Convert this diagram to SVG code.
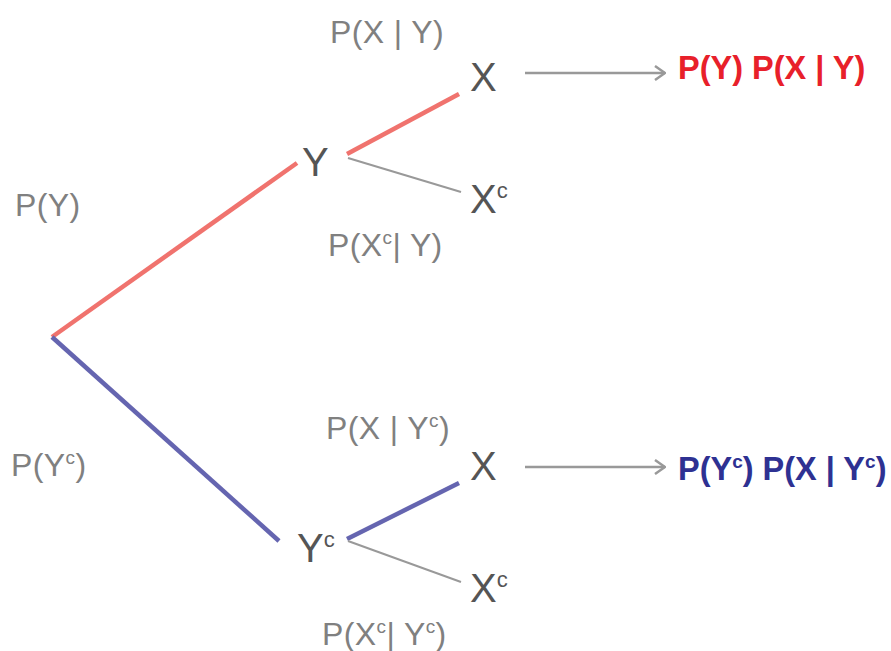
<svg xmlns="http://www.w3.org/2000/svg" width="891" height="651" viewBox="0 0 891 651">
<defs>
<style>
.lbl{font-family:"Liberation Sans",Arial,sans-serif;font-size:32px;letter-spacing:0.4px;fill:#808080}
.node{font-family:"Liberation Sans",Arial,sans-serif;font-size:40px;fill:#555555}
.res{font-family:"Liberation Sans",Arial,sans-serif;font-size:32.5px;font-weight:bold}
.red{stroke:#f0736e;stroke-width:4.5;fill:none}
.blue{stroke:#6565b0;stroke-width:4.5;fill:none}
.gray{stroke:#999999;stroke-width:2;fill:none}
.arr{stroke:#999999;stroke-width:2.5;fill:none}
</style>
<marker id="chev" viewBox="0 0 12 16" refX="11" refY="8" markerWidth="12" markerHeight="16" markerUnits="userSpaceOnUse" orient="auto">
<path d="M1,1 L11,8 L1,15" fill="none" stroke="#999999" stroke-width="2.5"/>
</marker>
</defs>
<rect width="891" height="651" fill="#ffffff"/>
<g id="connectors">
<line class="red" x1="52" y1="337" x2="297" y2="163"/>
<line class="blue" x1="52" y1="337" x2="279" y2="541"/>
<line class="red" x1="347" y1="154" x2="459" y2="94"/>
<line class="gray" x1="348" y1="158" x2="461" y2="192"/>
<line class="blue" x1="347" y1="539" x2="459" y2="483"/>
<line class="gray" x1="348" y1="541" x2="461" y2="582"/>
<line class="arr" x1="525" y1="73" x2="665" y2="73" marker-end="url(#chev)"/>
<line class="arr" x1="525" y1="467" x2="665" y2="467" marker-end="url(#chev)"/>
</g>
<g id="labels">
<text class="lbl" x="15" y="216">P(Y)</text>
<text class="lbl" x="11" y="476">P(Y<tspan font-size="19" dy="-12">c</tspan><tspan dy="12">)</tspan></text>
<text class="lbl" x="330" y="43">P(X | Y)</text>
<text class="lbl" x="328" y="256">P(X<tspan font-size="19" dy="-12">c</tspan><tspan dy="12">| Y)</tspan></text>
<text class="lbl" x="326" y="439">P(X | Y<tspan font-size="19" dy="-12">c</tspan><tspan dy="12">)</tspan></text>
<text class="lbl" x="322" y="645">P(X<tspan font-size="19" dy="-12">c</tspan><tspan dy="12">| Y</tspan><tspan font-size="19" dy="-12">c</tspan><tspan dy="12">)</tspan></text>
</g>
<g id="node-Y"><text class="node" x="302" y="176">Y</text></g>
<g id="node-X1"><text class="node" x="470" y="91">X</text></g>
<g id="node-Xc1"><text class="node" x="470" y="213">X<tspan font-size="22" dy="-15">c</tspan></text></g>
<g id="node-Yc"><text class="node" x="297" y="562">Y<tspan font-size="22" dy="-15">c</tspan></text></g>
<g id="node-X2"><text class="node" x="470" y="480">X</text></g>
<g id="node-Xc2"><text class="node" x="470" y="602">X<tspan font-size="22" dy="-15">c</tspan></text></g>
<g id="result-1"><text class="res" x="678" y="79" fill="#e8202a">P(Y) P(X | Y)</text></g>
<g id="result-2"><text class="res" x="678" y="480" fill="#2e3192">P(Y<tspan font-size="19" dy="-12">c</tspan><tspan dy="12">) P(X | Y</tspan><tspan font-size="19" dy="-12">c</tspan><tspan dy="12">)</tspan></text></g>
</svg>
